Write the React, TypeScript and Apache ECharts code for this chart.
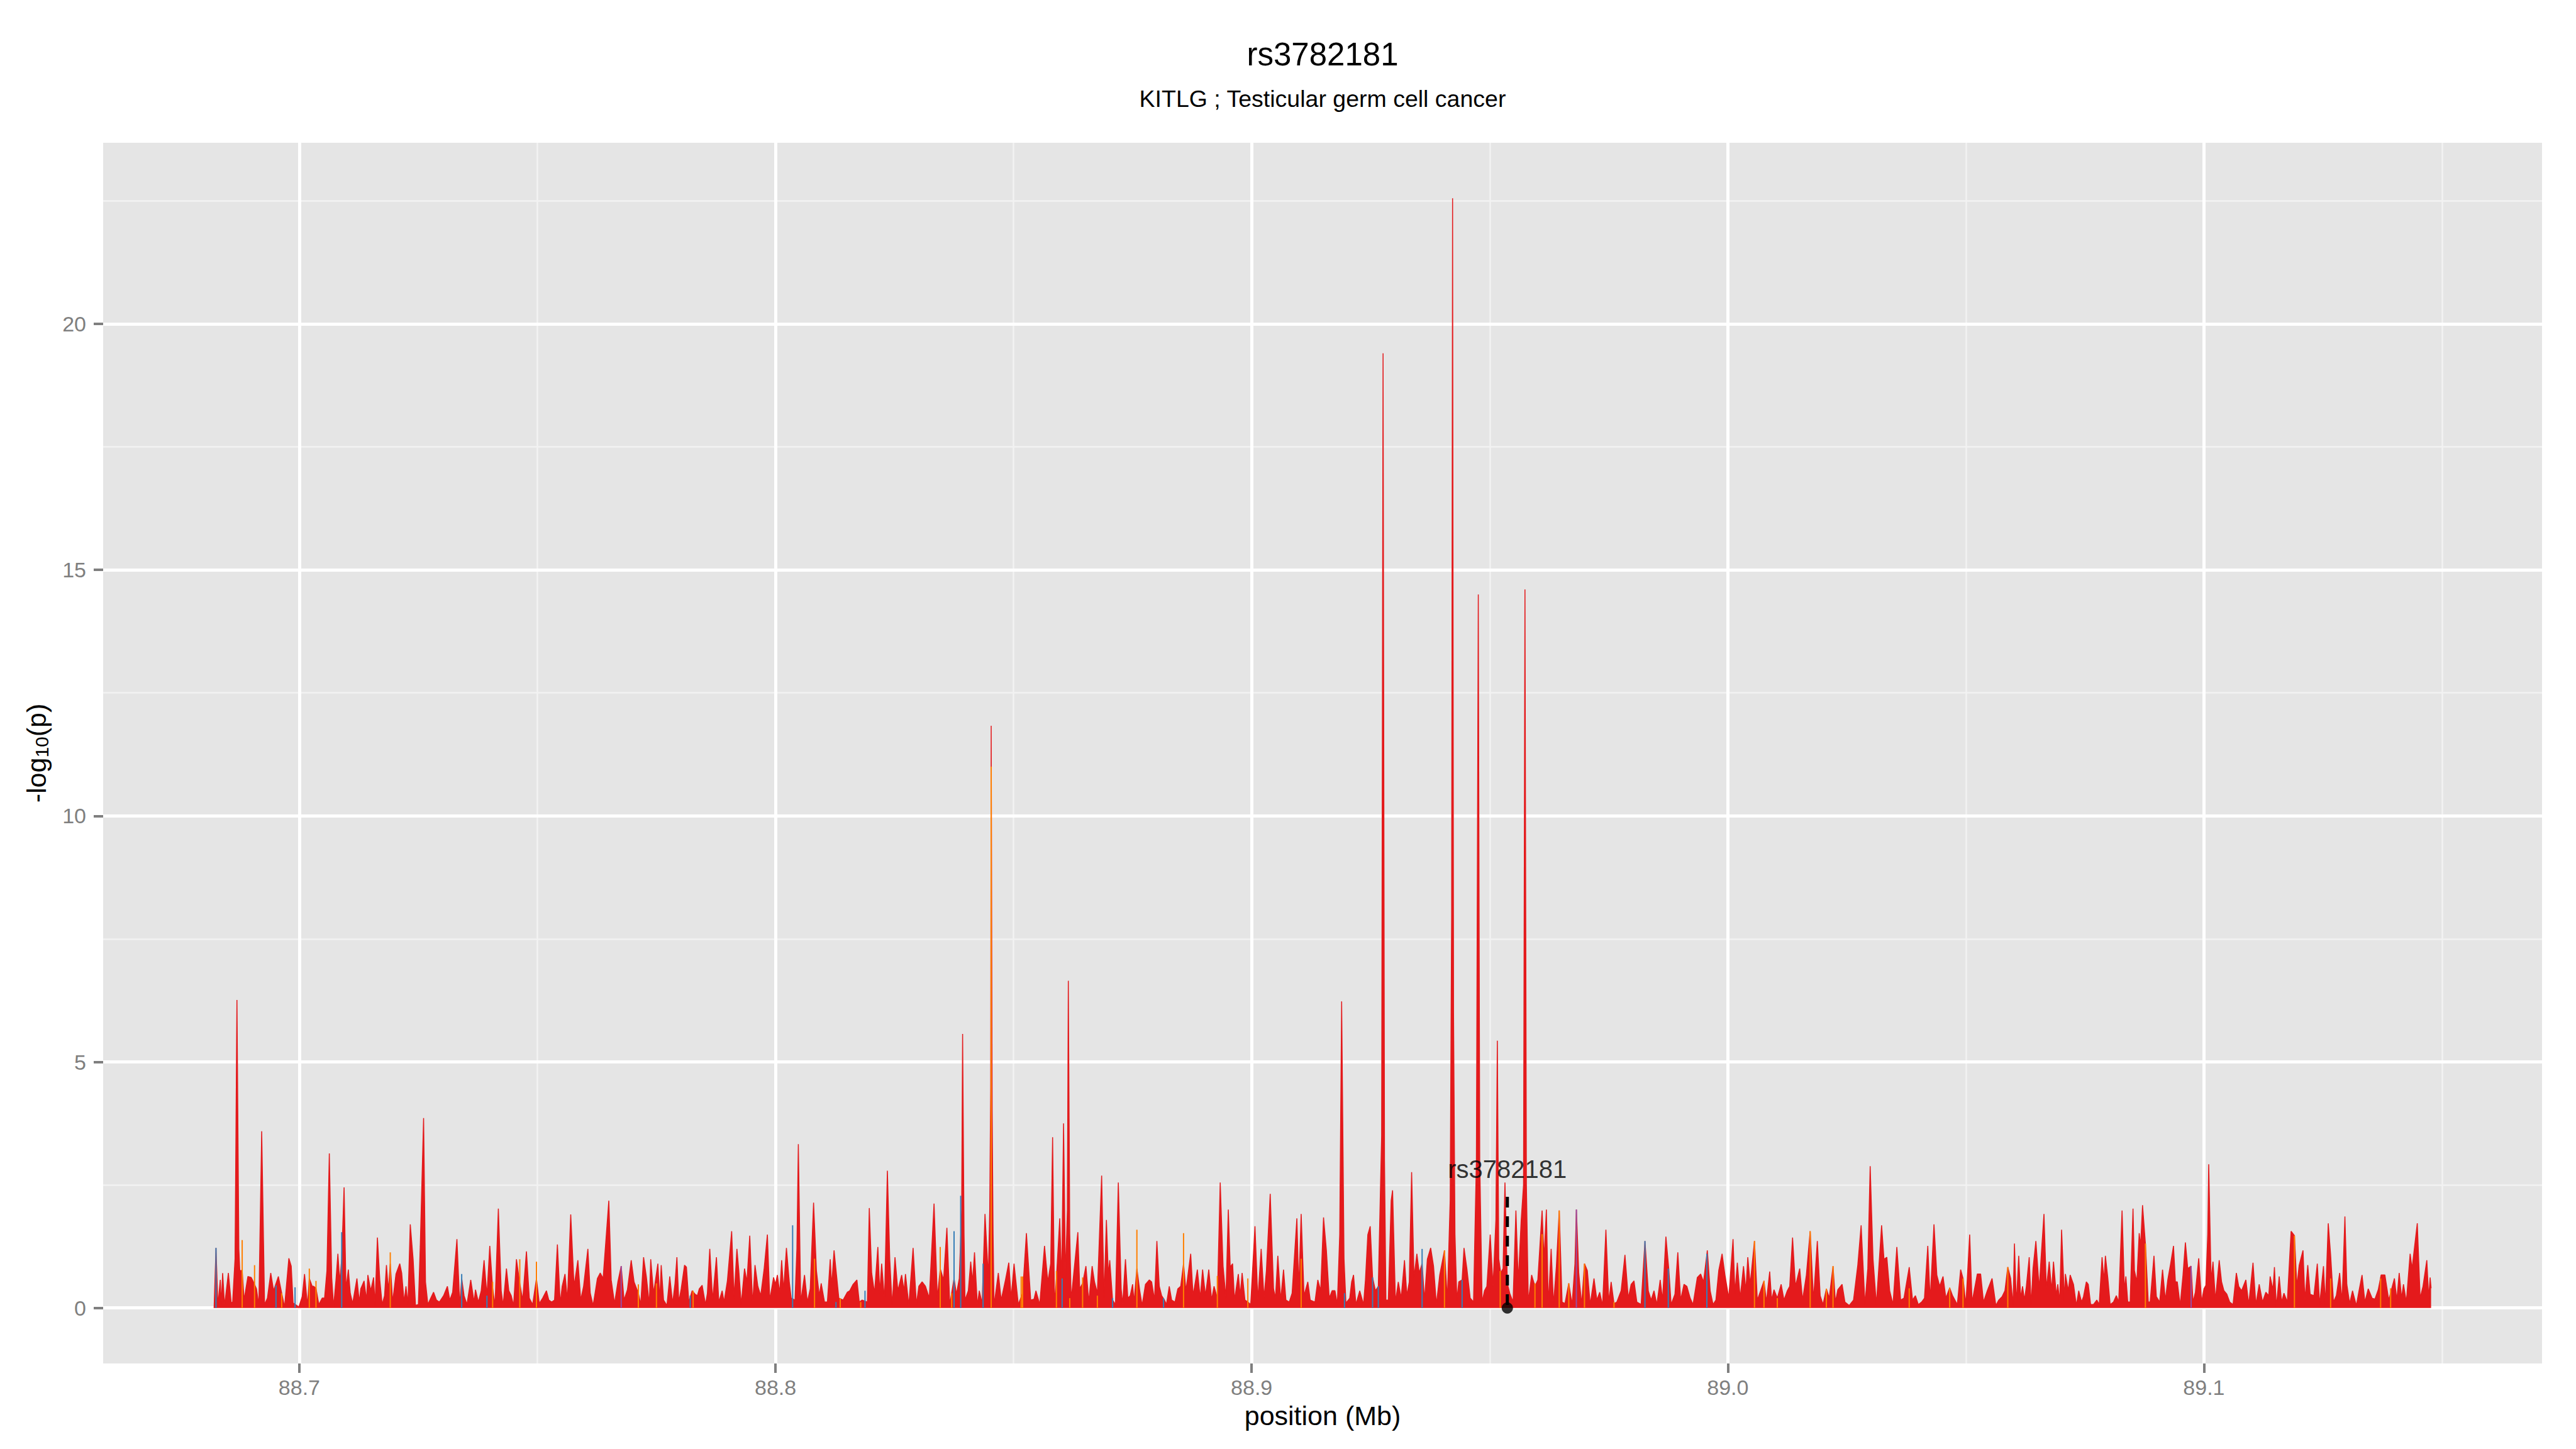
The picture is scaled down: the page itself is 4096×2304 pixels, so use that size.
import React, { useEffect, useRef } from 'react';
import * as echarts from 'echarts';

// ---- text ----
const chartTitle = 'rs3782181';
const chartSubtitle = 'KITLG ; Testicular germ cell cancer';
const xAxisTitle = 'position (Mb)';

// ---- axes ----
const xRange = [88.6588, 89.171];
const yRange = [-1.128, 23.678];
const xTicks = [88.7, 88.8, 88.9, 89.0, 89.1];
const xTickLabels = ['88.7', '88.8', '88.9', '89.0', '89.1'];
const xMinorTicks = [88.75, 88.85, 88.95, 89.05, 89.15];
const yTicks = [0, 5, 10, 15, 20];
const yTickLabels = ['0', '5', '10', '15', '20'];
const yMinorTicks = [2.5, 7.5, 12.5, 17.5, 22.5];

// ---- highlighted SNP ----
const markerSnp = 'rs3782181';
const markerPos = 88.9537;
const markerTop = 2.26;
const markerLabelY = 2.82;

// ---- association signal: [position (Mb), -log10(p)] ----
const redSnps = [
  [88.6821,0],[88.6825,1.22],[88.6829,0.05],[88.6834,0.57],[88.6836,0.07],[88.6839,0.71],[88.6843,0.05],[88.6851,0.71],[88.6857,0.1],[88.6860,0.12],[88.6865,1.0],[88.6869,6.26],[88.6873,1.2],[88.6875,0.76],[88.6880,0.76],[88.6884,0.16],[88.6892,0.64],[88.6899,0.62],[88.6905,0.5],[88.6910,0.39],[88.6915,0.05],[88.6921,3.59],[88.6927,0.07],[88.6933,0.2],[88.6940,0.71],[88.6946,0.35],[88.6956,0.64],[88.6963,0.3],[88.6969,0.02],[88.6978,1.01],[88.6983,0.85],[88.6987,0.1],[88.6999,0.02],[88.7006,0.23],[88.7011,0.69],[88.7017,0.05],[88.7021,0.6],[88.7027,0.44],[88.7030,0.44],[88.7035,0.4],[88.7041,0.07],[88.7048,0.2],[88.7053,0.2],[88.7058,0.76],[88.7063,3.14],[88.7068,0.62],[88.7072,0.02],[88.7077,0.57],[88.7081,1.1],[88.7085,0.53],[88.7089,1.0],[88.7094,2.45],[88.7098,0.39],[88.7103,0.78],[88.7107,0.3],[88.7112,0.09],[88.7121,0.6],[88.7126,0.12],[88.7129,0.39],[88.7136,0.55],[88.7141,0.16],[88.7144,0.67],[88.7150,0.35],[88.7156,0.62],[88.7159,0.05],[88.7164,1.43],[88.7169,0.57],[88.7174,0.07],[88.7179,0.25],[88.7183,0.87],[88.7187,0.35],[88.7191,0.9],[88.7196,0.12],[88.7203,0.69],[88.7211,0.9],[88.7215,0.71],[88.7220,0.12],[88.7224,0.44],[88.7228,0.07],[88.7233,1.7],[88.7239,0.99],[88.7244,0.05],[88.7250,0.07],[88.7254,1.26],[88.7261,3.86],[88.7265,0.53],[88.7270,0.07],[88.7276,0.2],[88.7282,0.32],[88.7288,0.16],[88.7294,0.12],[88.7303,0.25],[88.7311,0.44],[88.7316,0.16],[88.7322,0.32],[88.7331,1.4],[88.7337,0.05],[88.7341,0.6],[88.7346,0.25],[88.7352,0.07],[88.7360,0.57],[88.7367,0.12],[88.7370,0.37],[88.7376,0.12],[88.7382,0.35],[88.7388,0.97],[88.7394,0.25],[88.7400,1.26],[88.7406,0.4],[88.7411,0.05],[88.7418,2.02],[88.7424,0.35],[88.7428,0.05],[88.7435,0.8],[88.7440,0.35],[88.7445,0.25],[88.7450,0.05],[88.7456,0.99],[88.7463,0.5],[88.7469,0.16],[88.7477,1.15],[88.7483,0.2],[88.7490,0.07],[88.7498,0.6],[88.7504,0.09],[88.7511,0.2],[88.7519,0.35],[88.7524,0.16],[88.7530,0.12],[88.7536,0.16],[88.7542,1.29],[88.7548,0.09],[88.7552,0.44],[88.7558,0.69],[88.7563,0.16],[88.7570,1.9],[88.7577,0.44],[88.7585,0.97],[88.7591,0.16],[88.7597,0.44],[88.7606,1.2],[88.7611,0.3],[88.7617,0.05],[88.7626,0.6],[88.7632,0.71],[88.7638,0.6],[88.7650,2.18],[88.7655,0.57],[88.7662,0.09],[88.7669,0.53],[88.7676,0.85],[88.7682,0.16],[88.7689,0.37],[88.7697,0.97],[88.7703,0.53],[88.7712,0.3],[88.7717,0.07],[88.7723,1.03],[88.7729,0.62],[88.7735,0.07],[88.7738,0.99],[88.7744,0.3],[88.7753,0.9],
  [88.7757,0.16],[88.7760,0.87],[88.7765,0.16],[88.7772,0.05],[88.7778,0.64],[88.7784,0.09],[88.7789,0.5],[88.7793,1.03],[88.7797,0.12],[88.7802,0.39],[88.7809,0.87],[88.7813,0.83],[88.7818,0.12],[88.7825,0.35],[88.7831,0.28],[88.7836,0.25],[88.7840,0.39],[88.7846,0.46],[88.7853,0.07],[88.7857,0.3],[88.7862,1.2],[88.7868,0.16],[88.7876,1.03],[88.7881,0.12],[88.7888,0.35],[88.7892,0.12],[88.7899,0.55],[88.7908,1.56],[88.7913,0.2],[88.7919,1.2],[88.7923,0.76],[88.7928,0.07],[88.7935,0.8],[88.7940,0.53],[88.7946,1.47],[88.7952,0.07],[88.7957,0.87],[88.7963,0.44],[88.7969,0.25],[88.7976,0.78],[88.7983,1.49],[88.7988,0.16],[88.7996,0.62],[88.8000,0.48],[88.8004,0.67],[88.8009,0.3],[88.8013,0.97],[88.8017,0.35],[88.8023,1.22],[88.8029,0.53],[88.8033,0.2],[88.8041,0.16],[88.8045,1.2],[88.8048,3.33],[88.8053,0.12],[88.8061,0.67],[88.8067,0.12],[88.8073,0.39],[88.8080,2.14],[88.8086,0.76],[88.8092,0.25],[88.8096,0.5],[88.8103,0.12],[88.8109,0.12],[88.8115,0.99],[88.8118,0.44],[88.8123,1.17],[88.8133,0.2],[88.8142,0.16],[88.8151,0.32],[88.8156,0.35],[88.8163,0.48],[88.8171,0.57],[88.8176,0.12],[88.8182,0.16],[88.8193,0.12],[88.8197,2.03],[88.8202,0.71],[88.8208,0.3],[88.8215,1.24],[88.8219,0.3],[88.8223,0.9],[88.8229,0.16],[88.8235,2.79],[88.8240,0.99],[88.8245,0.05],[88.8251,1.03],[88.8257,0.35],[88.8265,0.67],[88.8270,0.35],[88.8273,0.69],[88.8280,0.05],[88.8289,1.22],[88.8296,0.07],[88.8301,0.44],[88.8308,0.53],[88.8315,0.44],[88.8323,0.2],[88.8333,2.12],[88.8340,0.2],[88.8346,0.8],[88.8353,0.57],[88.8360,1.63],[88.8366,0.07],[88.8375,0.6],[88.8380,0.28],[88.8386,0.6],[88.8391,2.0],[88.8393,5.57],[88.8396,1.5],[88.8398,0.16],[88.8405,0.35],[88.8410,0.94],[88.8414,0.53],[88.8418,1.13],[88.8424,0.05],[88.8428,0.35],[88.8434,0.09],[88.8440,1.91],[88.8447,0.62],[88.8450,2.0],[88.8452,4.5],[88.8453,11.83],[88.8455,4.0],[88.8457,1.5],[88.8459,0.05],[88.8468,0.71],[88.8474,0.16],[88.8483,0.57],[88.8490,0.92],[88.8495,0.2],[88.8501,0.9],[88.8510,0.07],[88.8519,0.3],[88.8527,1.52],[88.8536,0.16],[88.8543,0.18],[88.8547,0.35],[88.8555,0.07],[88.8565,1.26],[88.8572,0.53],[88.8578,0.9],[88.8582,3.47],[88.8586,0.07],[88.8590,0.6],[88.8597,1.82],[88.8601,0.5],[88.8605,3.75],[88.8609,0.6],[88.8613,2.0],[88.8615,6.65],[88.8618,1.5],[88.8621,0.16],[88.8627,0.76],[88.8635,1.54],[88.8639,0.39],[88.8645,0.5],[88.8652,0.85],[88.8658,0.12],[88.8665,0.85],[88.8670,0.53],[88.8676,0.3],[88.8685,2.69],
  [88.8690,0.2],[88.8695,1.79],[88.8699,0.67],[88.8702,0.97],[88.8708,0.16],[88.8714,0.07],[88.8720,2.55],[88.8726,0.39],[88.8729,0.07],[88.8735,0.99],[88.8740,0.2],[88.8745,0.25],[88.8750,0.48],[88.8753,0.12],[88.8759,0.8],[88.8765,0.35],[88.8770,0.05],[88.8777,0.48],[88.8785,0.57],[88.8790,0.53],[88.8796,0.16],[88.8801,1.36],[88.8806,0.44],[88.8811,0.25],[88.8817,0.16],[88.8821,0.07],[88.8827,0.44],[88.8832,0.16],[88.8839,0.12],[88.8845,0.39],[88.8851,0.44],[88.8857,0.9],[88.8862,0.35],[88.8872,1.1],[88.8877,0.25],[88.8886,0.78],[88.8892,0.2],[88.8897,0.78],[88.8903,0.25],[88.8910,0.78],[88.8916,0.16],[88.8921,0.44],[88.8928,0.2],[88.8934,2.55],[88.8940,0.85],[88.8946,0.2],[88.8951,2.0],[88.8955,0.83],[88.8960,0.9],[88.8964,0.16],[88.8972,0.69],[88.8976,0.25],[88.8980,0.71],[88.8986,0.16],[88.8992,0.12],[88.8998,0.07],[88.9007,1.66],[88.9013,0.16],[88.9020,1.2],[88.9026,0.2],[88.9031,0.76],[88.9039,2.32],[88.9046,0.39],[88.9050,0.2],[88.9055,1.06],[88.9061,0.16],[88.9067,0.78],[88.9072,0.16],[88.9079,0.12],[88.9085,0.3],[88.9095,1.82],[88.9099,0.39],[88.9104,1.91],[88.9110,0.25],[88.9118,0.53],[88.9123,0.16],[88.9133,0.12],[88.9139,0.57],[88.9145,0.35],[88.9151,1.84],[88.9157,1.17],[88.9163,0.2],[88.9169,0.35],[88.9175,0.35],[88.9180,0.07],[88.9185,1.5],[88.9189,6.23],[88.9194,1.0],[88.9198,0.1],[88.9206,0.2],[88.9210,0.53],[88.9214,0.67],[88.9219,0.07],[88.9227,0.35],[88.9235,0.07],[88.9239,0.57],[88.9244,1.49],[88.9249,1.66],[88.9254,0.62],[88.9260,0.35],[88.9266,0.44],[88.9270,2.18],[88.9273,3.5],[88.9276,19.4],[88.9279,3.0],[88.9282,0.16],[88.9287,0.16],[88.9293,2.18],[88.9296,2.39],[88.9302,0.12],[88.9308,0.53],[88.9314,0.2],[88.9321,0.97],[88.9326,0.25],[88.9331,0.53],[88.9336,2.76],[88.9341,0.62],[88.9347,1.1],[88.9352,0.71],[88.9358,0.9],[88.9363,0.16],[88.9369,0.99],[88.9376,1.22],[88.9382,0.85],[88.9388,0.07],[88.9395,0.67],[88.9405,1.17],[88.9411,0.16],[88.9417,2.2],[88.9420,8.0],[88.9422,22.55],[88.9424,6.0],[88.9427,1.5],[88.9431,0.16],[88.9435,0.53],[88.9442,0.57],[88.9446,1.22],[88.9452,0.8],[88.9459,0.2],[88.9466,0.12],[88.9472,3.0],[88.9476,14.5],[88.9479,3.0],[88.9484,0.12],[88.9489,0.35],[88.9494,0.44],[88.9501,1.49],[88.9507,0.44],[88.9513,1.8],[88.9516,5.43],[88.9519,1.0],[88.9523,0.71],[88.9528,0.8],[88.9532,2.55],[88.9537,0.5],[88.9542,0.3],[88.9549,0.12],[88.9555,1.98],[88.9560,0.53],[88.9566,1.77],[88.9571,2.5],[88.9574,14.6],[88.9577,2.5],[88.9581,0.12],[88.9588,0.67],[88.9595,0.44],[88.9601,0.57],[88.9610,1.98],[88.9614,0.99],[88.9619,2.0],
  [88.9623,0.07],[88.9629,1.2],[88.9634,0.07],[88.9640,0.85],[88.9646,1.98],[88.9652,0.12],[88.9658,0.09],[88.9666,0.5],[88.9673,0.07],[88.9679,0.9],[88.9682,2.0],[88.9687,0.71],[88.9693,0.07],[88.9699,0.9],[88.9705,0.76],[88.9711,0.07],[88.9719,0.6],[88.9725,0.16],[88.9731,0.32],[88.9737,0.05],[88.9744,1.59],[88.9750,0.12],[88.9755,0.53],[88.9761,0.09],[88.9767,0.12],[88.9776,0.35],[88.9784,1.08],[88.9791,0.2],[88.9797,0.48],[88.9803,0.55],[88.9809,0.12],[88.9818,0.07],[88.9826,1.36],[88.9833,0.35],[88.9839,0.16],[88.9845,0.35],[88.9851,0.07],[88.9858,0.57],[88.9863,0.16],[88.9870,1.45],[88.9876,0.8],[88.9881,0.07],[88.9889,0.28],[88.9895,1.13],[88.9901,0.16],[88.9908,0.48],[88.9914,0.44],[88.9921,0.2],[88.9927,0.07],[88.9936,0.62],[88.9943,0.69],[88.9949,0.53],[88.9957,1.17],[88.9963,0.35],[88.9969,0.07],[88.9975,0.16],[88.9981,0.76],[88.9988,1.1],[88.9994,0.67],[89.0002,0.2],[89.0011,1.4],[89.0015,0.3],[89.0020,0.92],[89.0026,0.2],[89.0033,0.85],[89.0038,0.35],[89.0042,1.03],[89.0047,0.48],[89.0056,1.36],[89.0062,0.16],[89.0069,0.35],[89.0076,0.55],[89.0081,0.12],[89.0088,0.74],[89.0092,0.16],[89.0097,0.37],[89.0104,0.2],[89.0112,0.48],[89.0118,0.16],[89.0125,0.35],[89.0130,0.44],[89.0136,1.43],[89.0142,0.44],[89.0151,0.8],[89.0157,0.16],[89.0165,0.67],[89.0173,1.56],[89.0180,0.16],[89.0188,1.36],[89.0194,0.25],[89.0200,0.07],[89.0207,0.39],[89.0213,0.2],[89.0221,0.85],[89.0226,0.12],[89.0231,0.37],[89.0240,0.48],[89.0246,0.12],[89.0255,0.05],[89.0264,0.16],[89.0273,0.87],[89.0280,1.68],[89.0288,0.07],[89.0294,0.8],[89.0299,2.88],[89.0305,0.99],[89.0312,0.07],[89.0323,1.68],[89.0328,0.99],[89.0334,1.03],[89.0340,0.35],[89.0347,0.07],[89.0355,1.24],[89.0363,0.16],[89.0370,0.2],[89.0381,0.83],[89.0388,0.16],[89.0394,0.25],[89.0400,0.07],[89.0407,0.12],[89.0413,0.2],[89.0420,1.26],[89.0425,0.16],[89.0433,1.7],[89.0439,0.67],[89.0445,0.44],[89.0452,0.64],[89.0458,0.2],[89.0466,0.41],[89.0472,0.25],[89.0482,0.07],[89.0489,0.78],[89.0494,0.6],[89.0500,0.07],[89.0508,1.49],[89.0513,0.12],[89.0524,0.69],[89.0531,0.69],[89.0537,0.12],[89.0545,0.35],[89.0555,0.6],
  [89.0563,0.05],[89.0569,0.16],[89.0576,0.23],[89.0582,0.35],[89.0588,0.83],[89.0594,0.6],[89.0599,0.05],[89.0602,1.31],[89.0606,0.07],[89.0611,1.06],[89.0615,0.2],[89.0619,0.44],[89.0623,0.16],[89.0627,0.44],[89.0633,1.03],[89.0637,0.05],[89.0641,0.8],[89.0647,1.36],[89.0654,0.39],[89.0658,1.03],[89.0664,1.91],[89.0669,0.39],[89.0675,0.94],[89.0680,0.35],[89.0684,0.94],[89.0690,0.25],[89.0693,0.48],[89.0697,0.12],[89.0701,1.59],[89.0707,0.16],[89.0709,0.69],[89.0715,0.35],[89.0719,0.67],[89.0726,0.48],[89.0732,0.05],[89.0737,0.35],[89.0743,0.12],[89.0747,0.23],[89.0753,0.53],[89.0757,0.48],[89.0762,0.07],[89.0768,0.07],[89.0775,0.16],[89.0780,0.07],[89.0786,1.03],[89.0790,0.55],[89.0793,1.06],[89.0798,0.62],[89.0803,0.07],[89.0810,0.12],[89.0816,0.25],[89.0821,0.12],[89.0828,1.98],[89.0833,0.35],[89.0836,0.64],[89.0840,0.12],[89.0845,0.12],[89.0851,2.02],[89.0854,0.76],[89.0859,0.53],[89.0864,1.52],[89.0867,1.26],[89.0871,2.09],[89.0877,1.31],[89.0883,0.12],[89.0887,0.12],[89.0895,1.06],[89.0900,0.23],[89.0907,0.12],[89.0913,0.78],[89.0919,0.16],[89.0924,0.57],[89.0930,0.9],[89.0936,1.26],[89.0940,0.53],[89.0944,0.53],[89.0950,0.05],[89.0956,0.67],[89.0961,1.33],[89.0966,0.8],[89.0973,0.85],[89.0977,0.12],[89.0982,0.32],[89.0989,1.01],[89.0995,0.12],[89.1000,0.39],[89.1004,0.46],[89.1008,1.5],[89.1010,2.92],[89.1013,1.5],[89.1015,0.55],[89.1019,0.94],[89.1024,0.16],[89.1032,0.97],[89.1037,0.53],[89.1042,0.35],[89.1048,0.28],[89.1054,0.12],[89.1061,0.07],[89.1068,0.71],[89.1073,0.44],[89.1079,0.35],[89.1088,0.57],[89.1094,0.07],[89.1103,0.92],[89.1109,0.07],[89.1116,0.48],[89.1123,0.12],[89.1130,0.32],[89.1136,0.25],[89.1139,0.64],[89.1145,0.37],[89.1148,0.83],[89.1152,0.02],[89.1158,0.64],[89.1163,0.12],[89.1168,0.3],[89.1175,0.12],[89.1183,1.56],[89.1190,1.47],[89.1195,0.44],[89.1200,0.87],[89.1208,1.17],[89.1212,0.16],[89.1218,0.87],[89.1223,0.28],[89.1231,0.25],[89.1238,0.9],[89.1243,0.07],[89.1251,0.85],[89.1255,0.07],[89.1261,1.72],[89.1266,1.08],[89.1272,0.12],[89.1278,0.25],[89.1285,0.71],[89.1290,0.12],[89.1296,1.86],[89.1300,0.48],[89.1306,0.09],[89.1312,0.35],[89.1320,0.05],[89.1326,0.37],[89.1332,0.67],[89.1338,0.12],[89.1345,0.39],[89.1353,0.2],[89.1359,0.18],[89.1366,0.37],[89.1372,0.67],[89.1380,0.67],[89.1388,0.16],[89.1400,0.6],[89.1405,0.16],[89.1410,0.71],[89.1415,0.2],[89.1419,0.48],[89.1425,0.12],[89.1433,1.1],[89.1437,0.8],[89.1448,1.72],[89.1454,0.2],[89.1460,0.44],[89.1468,0.97],[89.1472,0.2],[89.1475,0.62],[89.1477,0.4]
];

const orangeSnps = [
  [88.6880,1.38],[88.6906,0.87],[88.6963,0.3],[88.7021,0.8],[88.7035,0.55],[88.7191,1.13],[88.7406,0.53],[88.7463,0.99],[88.7498,0.94],[88.7712,0.48],[88.7750,0.5],[88.7827,0.35],[88.8082,1.0],[88.8136,0.2],[88.8179,0.12],[88.8346,1.24],[88.8370,0.3],[88.8453,11.0],[88.8516,0.64],[88.8519,0.64],[88.8590,0.75],[88.8618,0.2],[88.8645,0.62],[88.8676,0.25],[88.8759,1.59],[88.8857,1.52],[88.8928,0.65],[88.8992,0.6],[88.9104,1.0],[88.9405,1.17],[88.9522,0.75],[88.9595,0.5],[88.9610,1.5],[88.9646,1.98],[88.9666,0.5],[88.9699,0.9],[88.9761,0.12],[89.0056,1.36],[89.0076,0.55],[89.0104,0.2],[89.0173,1.56],[89.0207,0.39],[89.0221,0.85],[89.0381,0.4],[89.0466,0.41],[89.0494,0.6],[89.0588,0.83],[89.0877,1.31],[89.1190,1.47],[89.1266,0.6],[89.1371,0.6],[89.1392,0.4]
];

const blueSnps = [
  [88.6825,1.22],[88.6951,0.46],[88.6991,0.42],[88.7089,1.54],[88.7341,0.69],[88.7394,0.25],[88.7821,0.25],[88.8036,1.68],[88.8127,0.12],[88.8188,0.35],[88.8375,1.56],[88.8389,2.28],[88.8436,0.9],[88.8602,0.6],[88.8708,0.2],[88.8815,0.2],[88.9195,0.3],[88.9254,0.62],[88.9266,0.44],[88.9358,1.2],[88.9442,0.57],[88.9826,1.36],[88.9875,0.8],[88.9956,1.1]
];

const purpleSnps = [
  [88.7676,0.85],[88.9682,2.0],[89.0973,0.85]
];

const FONT = '"Liberation Sans", Arial, Helvetica, sans-serif';

function labelFor(v: number, ticks: number[], labels: string[]) {
  for (let i = 0; i < ticks.length; i++) {
    if (Math.abs(ticks[i] - v) < 1e-6) return labels[i];
  }
  return '';
}

export default function App() {
  const ref = useRef<HTMLDivElement>(null);

  useEffect(() => {
    if (!ref.current) return;
    const chart = echarts.init(ref.current, null, { renderer: 'svg' });

    const gridBox = { left: 164, top: 227, width: 3878, height: 1941 };
    const plotCenterX = gridBox.left + gridBox.width / 2;
    const plotCenterY = gridBox.top + gridBox.height / 2;

    const hiddenAxisBase = {
      axisLine: { show: false, onZero: false },
      axisLabel: { show: false },
      axisTick: { show: false },
    };

    const spikeSeries = (name: string, data: number[][], color: string) => ({
      type: 'bar',
      name,
      data,
      barWidth: 2,
      barGap: '-100%',
      silent: true,
      itemStyle: { color },
      z: 3,
    });

    const option: any = {
      animation: false,
      backgroundColor: '#FFFFFF',
      grid: {
        ...gridBox,
        show: true,
        backgroundColor: '#E5E5E5',
        borderWidth: 0,
      },
      xAxis: [
        {
          type: 'value',
          min: xRange[0],
          max: xRange[1],
          position: 'bottom',
          axisLine: { show: false, onZero: false },
          axisTick: {
            show: true,
            customValues: xTicks,
            length: 15,
            lineStyle: { color: '#7F7F7F', width: 4 },
          },
          axisLabel: {
            show: true,
            customValues: xTicks,
            formatter: (v: number) => labelFor(v, xTicks, xTickLabels),
            margin: 21,
            fontSize: 34,
            color: '#7F7F7F',
            fontFamily: FONT,
          },
          splitLine: { show: true, lineStyle: { color: '#FFFFFF', width: 5 } },
          z: 1,
        },
        {
          type: 'value',
          min: xRange[0],
          max: xRange[1],
          position: 'top',
          ...hiddenAxisBase,
          axisTick: { show: false, customValues: xMinorTicks },
          axisLabel: { show: false, customValues: xMinorTicks },
          splitLine: { show: true, lineStyle: { color: '#F2F2F2', width: 2.5 } },
          z: 0,
        },
      ],
      yAxis: [
        {
          type: 'value',
          min: yRange[0],
          max: yRange[1],
          position: 'left',
          axisLine: { show: false, onZero: false },
          axisTick: {
            show: true,
            customValues: yTicks,
            length: 15,
            lineStyle: { color: '#7F7F7F', width: 4 },
          },
          axisLabel: {
            show: true,
            customValues: yTicks,
            formatter: (v: number) => labelFor(v, yTicks, yTickLabels),
            margin: 27,
            fontSize: 34,
            color: '#7F7F7F',
            fontFamily: FONT,
          },
          splitLine: { show: true, lineStyle: { color: '#FFFFFF', width: 5 } },
          z: 1,
        },
        {
          type: 'value',
          min: yRange[0],
          max: yRange[1],
          position: 'right',
          ...hiddenAxisBase,
          axisTick: { show: false, customValues: yMinorTicks },
          axisLabel: { show: false, customValues: yMinorTicks },
          splitLine: { show: true, lineStyle: { color: '#F2F2F2', width: 2.5 } },
          z: 0,
        },
      ],
      series: [
        {
          type: 'line',
          name: 'signal',
          data: redSnps,
          xAxisIndex: 0,
          yAxisIndex: 0,
          symbol: 'none',
          showSymbol: false,
          silent: true,
          lineStyle: { color: '#E41A1C', width: 1.5 },
          areaStyle: { color: '#E41A1C', opacity: 1, origin: 'auto' },
          z: 2,
        },
        spikeSeries('orange', orangeSnps, '#FF7F00'),
        spikeSeries('blue', blueSnps, '#377EB8'),
        spikeSeries('purple', purpleSnps, '#984EA3'),
        {
          type: 'line',
          name: 'marker-line',
          data: [[markerPos, markerTop], [markerPos, 0]],
          symbol: 'none',
          silent: true,
          lineStyle: { color: '#000000', width: 5, type: [17, 14] },
          z: 5,
        },
        {
          type: 'scatter',
          name: 'marker-dot',
          data: [[markerPos, 0]],
          symbol: 'circle',
          symbolSize: 18,
          silent: true,
          itemStyle: { color: '#000000' },
          z: 6,
        },
        {
          type: 'scatter',
          name: 'marker-label',
          data: [[markerPos, markerLabelY]],
          symbolSize: 1,
          silent: true,
          itemStyle: { color: 'transparent' },
          label: {
            show: true,
            position: 'inside',
            formatter: markerSnp,
            fontSize: 40,
            color: '#000000',
            fontFamily: FONT,
          },
          z: 6,
        },
      ],
      graphic: [
        {
          type: 'text',
          x: plotCenterX,
          y: 86,
          style: {
            text: chartTitle,
            fontSize: 51,
            fontFamily: FONT,
            fill: '#000000',
            align: 'center',
            verticalAlign: 'middle',
            textAlign: 'center',
            textVerticalAlign: 'middle',
          },
        },
        {
          type: 'text',
          x: plotCenterX,
          y: 157,
          style: {
            text: chartSubtitle,
            fontSize: 37.5,
            fontFamily: FONT,
            fill: '#000000',
            align: 'center',
            verticalAlign: 'middle',
            textAlign: 'center',
            textVerticalAlign: 'middle',
          },
        },
        {
          type: 'text',
          x: plotCenterX,
          y: 2251,
          style: {
            text: xAxisTitle,
            fontSize: 43,
            fontFamily: FONT,
            fill: '#000000',
            align: 'center',
            verticalAlign: 'middle',
            textAlign: 'center',
            textVerticalAlign: 'middle',
          },
        },
        {
          type: 'text',
          x: 58,
          y: plotCenterY,
          rotation: Math.PI / 2,
          style: {
            text: '{m|-log}{s|10}{m|(p)}',
            fontFamily: FONT,
            fill: '#000000',
            align: 'center',
            verticalAlign: 'middle',
            textAlign: 'center',
            textVerticalAlign: 'middle',
            rich: {
              m: { fontSize: 43, fontFamily: FONT, fill: '#000000' },
              s: { fontSize: 30, fontFamily: FONT, fill: '#000000', padding: [16, 0, 0, 0] },
            },
          },
        },
      ],
    };

    chart.setOption(option);
    return () => {
      chart.dispose();
    };
  }, []);

  return (
    <div
      ref={ref}
      style={{ position: 'absolute', left: 0, top: 0, width: 4096, height: 2304 }}
    />
  );
}
